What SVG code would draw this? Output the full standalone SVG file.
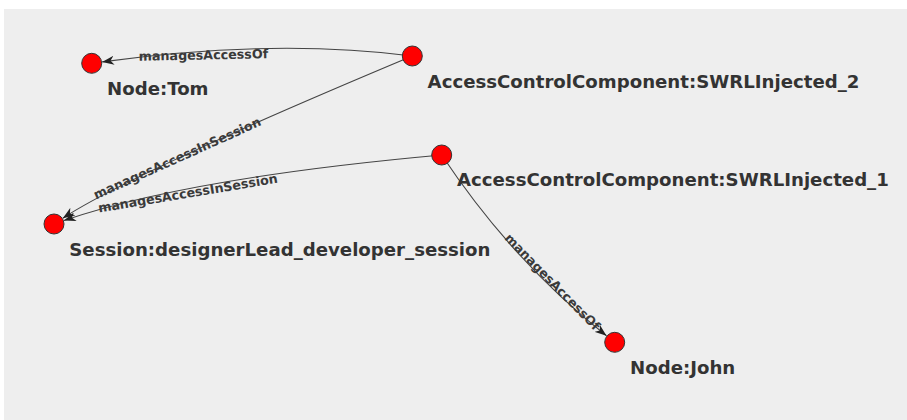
<svg xmlns="http://www.w3.org/2000/svg" width="907" height="420" viewBox="0 0 907 420">
<style>
.node circle{fill:#ff0000;stroke:#333;stroke-width:1}
.nlabel{font-family:"DejaVu Sans",sans-serif;font-weight:bold;font-size:18.15px;fill:#333}
.edge{fill:none;stroke:#444;stroke-width:1.1;marker-end:url(#arr)}
.elabel{font-family:"DejaVu Sans",sans-serif;font-weight:bold;font-size:12.7px;fill:#3a3a3a;text-anchor:middle}
</style>
<defs>
<marker id="arr" markerUnits="userSpaceOnUse" markerWidth="12" markerHeight="9" viewBox="0 0 12 9" refX="12" refY="4.5" orient="auto">
<path d="M0,0 L12,4.5 L0,9 L3.5,4.5 z" fill="#222"/>
</marker>
</defs>
<rect x="4" y="9" width="903" height="411" fill="#eeeeee"/>
<g id="connectors">
<path class="edge" d="M412.3,56 Q273,38 102.1,61.9"/>
<path class="edge" d="M412.3,56 Q128,175 62.8,218.2"/>
<path class="edge" d="M441.7,155 Q187,178 63.9,220.6"/>
<path class="edge" d="M441.7,155 Q513,262 606.5,335.8"/>
<text class="elabel" x="203.5" y="59.5" transform="rotate(-1.1 203.5 59.5)">managesAccessOf</text>
<text class="elabel" x="179" y="162.2" transform="rotate(-24.2 179 162.2)">managesAccessInSession</text>
<text class="elabel" x="188.6" y="197.6" transform="rotate(-9.5 188.6 197.6)">managesAccessInSession</text>
<text class="elabel" x="549.3" y="285" transform="rotate(45.5 549.3 285)">managesAccessOf</text>
</g>
<g id="node-tom" class="node">
<circle cx="91.7" cy="63.3" r="10"/>
<text class="nlabel" x="107" y="95">Node:Tom</text>
</g>
<g id="node-swrl2" class="node">
<circle cx="412.3" cy="56" r="10"/>
<text class="nlabel" x="427.6" y="87.5">AccessControlComponent:SWRLInjected_2</text>
</g>
<g id="node-swrl1" class="node">
<circle cx="441.7" cy="155" r="10"/>
<text class="nlabel" x="457" y="186">AccessControlComponent:SWRLInjected_1</text>
</g>
<g id="node-session" class="node">
<circle cx="54" cy="224" r="10"/>
<text class="nlabel" x="69.3" y="255.5">Session:designerLead_developer_session</text>
</g>
<g id="node-john" class="node">
<circle cx="614.7" cy="342.3" r="10"/>
<text class="nlabel" x="630" y="374">Node:John</text>
</g>
</svg>
